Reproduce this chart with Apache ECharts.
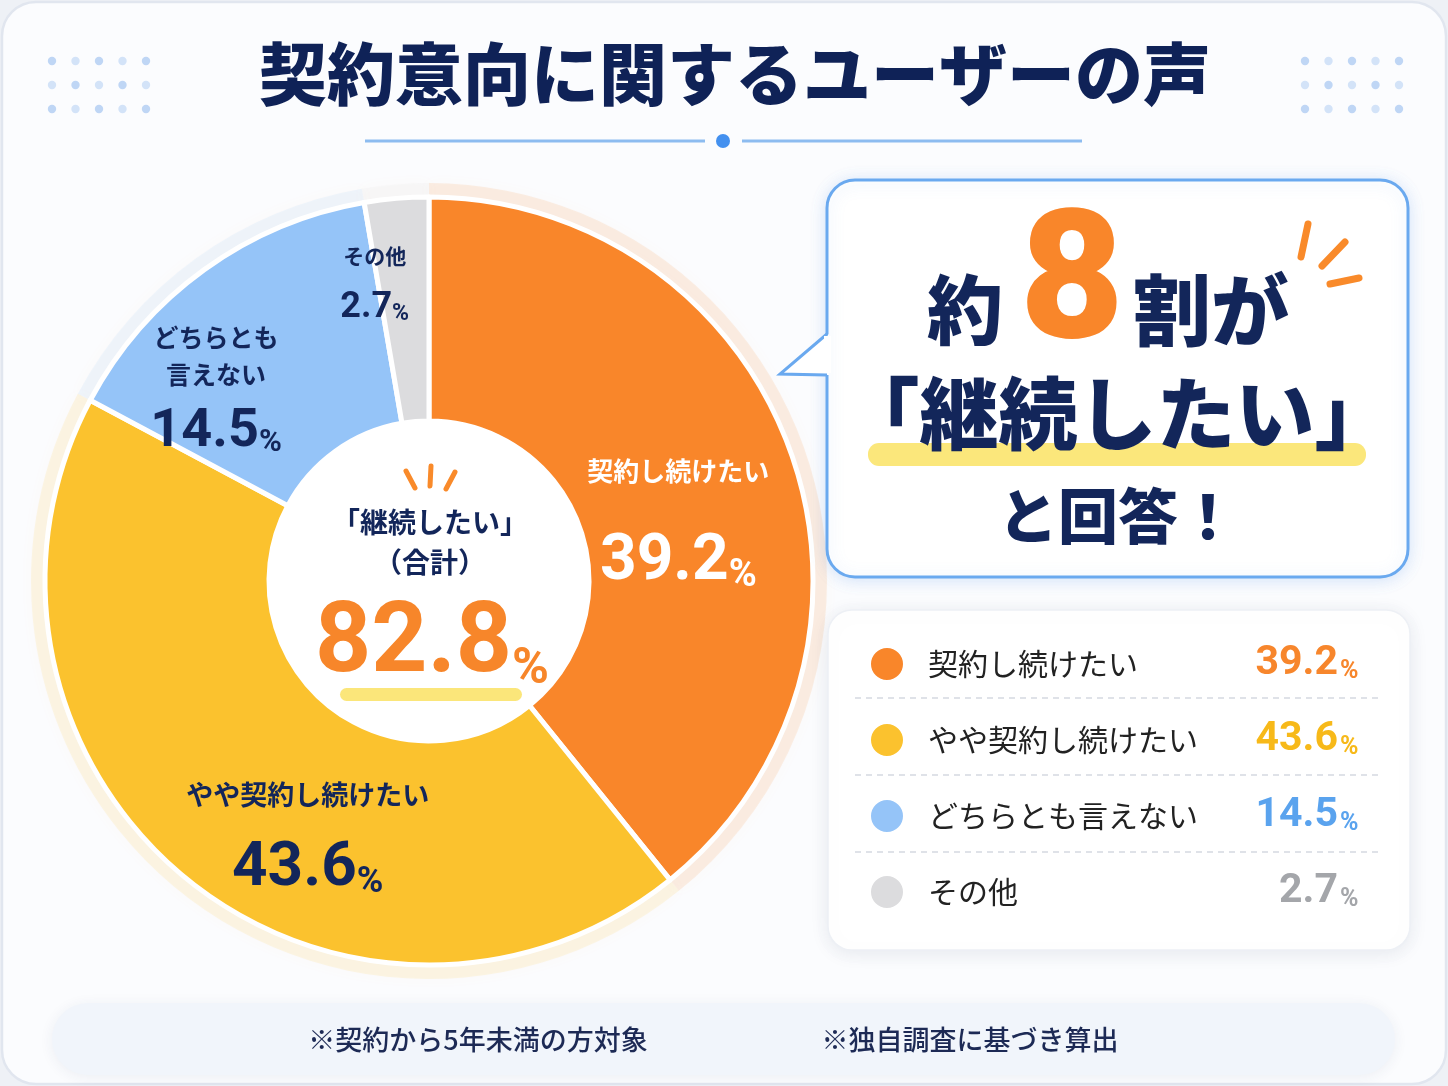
<!DOCTYPE html>
<html>
<head>
<meta charset="utf-8">
<script src="https://cdn.jsdelivr.net/npm/echarts@6/dist/echarts.min.js"></script>
<style>
html, body { margin: 0; padding: 0; background: #eef1f6; }
#main { width: 1448px; height: 1086px; }
</style>
</head>
<body>
<div id="main"></div>
<script>
// データ
var names = ['契約し続けたい', 'やや契約し続けたい', 'どちらとも言えない', 'その他'];
var values = [39.2, 43.6, 14.5, 2.7];
var notes = ['※契約から5年未満の方対象', '※独自調査に基づき算出'];

// 色
var colors = ['#f9862a', '#fbc22e', '#95c4f8', '#dcdcde'];
var valueColors = ['#f7862c', '#f7b919', '#5aa3ee', '#a4a6aa'];
var navy = '#13265a';
var jp = '"Noto Sans CJK JP", "Noto Sans", sans-serif';
var num = 'Roboto, "Noto Sans", sans-serif';

// 円グラフのラベル（改行・ずらし）
var sliceText = names.map(function (n, i) { return i === 2 ? n.replace('とも', 'とも\n') : n; });
var labelShift = [[-10, 30], [54, 44], [-52, 31], [-31, -25]];
var labelSize = [
  { n: 26, nl: 56, v: 64, vl: 96, p: 38, c: '#ffffff' },
  { n: 27, nl: 44, v: 62, vl: 84, p: 36, c: navy },
  { n: 25, nl: 37, v: 54, vl: 66, p: 31, c: navy },
  { n: 21, nl: 36, v: 36, vl: 52, p: 23, c: navy }
];

var cx = 429, cy = 581;
var total = values[0] + values[1]; // 継続したい（合計）

var myChart = echarts.init(document.getElementById('main'));

var pieData = names.map(function (n, i) {
  var s = labelSize[i];
  return {
    name: n,
    value: values[i],
    label: {
      rich: {
        n: { fontSize: s.n, lineHeight: s.nl, fontWeight: 700, fontFamily: jp, color: s.c },
        v: { fontSize: s.v, lineHeight: s.vl, fontWeight: 700, fontFamily: num, color: s.c, verticalAlign: 'bottom' },
        p: { fontSize: s.p, lineHeight: s.vl, fontWeight: 700, fontFamily: num, color: s.c, verticalAlign: 'bottom' }
      }
    }
  };
});

// 凡例のリッチテキスト
var legendRich = {
  n: { fontSize: 30, fontFamily: jp, color: '#222222', width: 300, lineHeight: 40, padding: [0, 0, 0, 19] }
};
names.forEach(function (n, i) {
  legendRich['v' + i] = { fontSize: 41, fontWeight: 700, fontFamily: num, color: valueColors[i], align: 'right', width: 110, lineHeight: 40, verticalAlign: 'bottom' };
  legendRich['q' + i] = { fontSize: 25, fontWeight: 700, fontFamily: num, color: valueColors[i], align: 'right', lineHeight: 40, verticalAlign: 'bottom', padding: [0, 0, 0, 2] };
});

// 飾りの点
var dots = [];
[52, 1305].forEach(function (x0) {
  for (var r = 0; r < 3; r++) {
    for (var c = 0; c < 5; c++) {
      dots.push({
        type: 'circle', z: 1, silent: true,
        shape: { cx: x0 + c * 23.5, cy: 61 + r * 24, r: 4.2 },
        style: { fill: (c + r) % 2 ? '#d3e3f8' : '#bfd6f5' }
      });
    }
  }
});

function spark(x1, y1, x2, y2, w) {
  return {
    type: 'line', z: 12, silent: true,
    shape: { x1: x1, y1: y1, x2: x2, y2: y2 },
    style: { stroke: '#f98a2a', lineWidth: w, lineCap: 'round' }
  };
}

var graphics = [
  // カード
  { type: 'rect', z: 0, silent: true, shape: { x: 2, y: 2, width: 1444, height: 1082, r: 34 },
    style: { fill: '#fbfcfe', stroke: '#e1e6ef', lineWidth: 2.5 } },
  // 区切り線
  { type: 'line', z: 1, silent: true, shape: { x1: 365, y1: 141, x2: 705, y2: 141 }, style: { stroke: '#8dbcf0', lineWidth: 3 } },
  { type: 'line', z: 1, silent: true, shape: { x1: 742, y1: 141, x2: 1082, y2: 141 }, style: { stroke: '#8dbcf0', lineWidth: 3 } },
  { type: 'circle', z: 1, silent: true, shape: { cx: 723, cy: 141, r: 7 }, style: { fill: '#4390ef' } },
  // 中央の白い円
  { type: 'circle', z: 1, silent: true, shape: { cx: cx, cy: cy, r: 160 }, style: { fill: '#ffffff' } },
  spark(406, 471, 415, 488, 5), spark(431, 466, 430, 486, 5), spark(455, 472, 446, 489, 5),
  { type: 'text', z: 12, silent: true, style: { x: 430, y: 522, text: '「継続したい」', font: '700 28px ' + jp, fill: navy, align: 'center', verticalAlign: 'middle' } },
  { type: 'text', z: 12, silent: true, style: { x: 430, y: 562, text: '（合計）', font: '700 28px ' + jp, fill: navy, align: 'center', verticalAlign: 'middle' } },
  { type: 'rect', z: 11, silent: true, shape: { x: 340, y: 688, width: 182, height: 13, r: 6.5 }, style: { fill: '#fbe67a' } },
  { type: 'text', z: 12, silent: true, style: {
      x: 432, y: 640, text: '{v|' + total.toFixed(1) + '}{p|%}', align: 'center', verticalAlign: 'middle',
      rich: {
        v: { fontSize: 98, fontWeight: 700, fontFamily: num, fill: '#f7862a', verticalAlign: 'bottom', lineHeight: 110 },
        p: { fontSize: 50, fontWeight: 700, fontFamily: num, fill: '#f7862a', verticalAlign: 'bottom', lineHeight: 110 }
      } } },
  // 吹き出し
  { type: 'rect', z: 5, silent: true, shape: { x: 827, y: 180, width: 581, height: 397, r: 28 },
    style: { fill: '#ffffff', stroke: '#6aa9ef', lineWidth: 3, shadowBlur: 16, shadowColor: 'rgba(90,150,230,0.22)', shadowOffsetY: 2 } },
  { type: 'polygon', z: 6, silent: true, shape: { points: [[829, 334], [780, 374], [829, 375]] }, style: { fill: '#ffffff' } },
  { type: 'polyline', z: 7, silent: true, shape: { points: [[827, 334], [780, 374], [827, 375]] }, style: { stroke: '#6aa9ef', lineWidth: 3, fill: null } },
  { type: 'rect', z: 7, silent: true, shape: { x: 824, y: 336, width: 7, height: 37 }, style: { fill: '#ffffff' } },
  { type: 'text', z: 8, silent: true, style: { x: 965, y: 310, text: '約', font: '900 76px ' + jp, fill: navy, align: 'center', verticalAlign: 'middle' } },
  { type: 'text', z: 8, silent: true, style: { x: 1072, y: 292, text: '8', font: '900 180px ' + num, fill: '#f9862a', align: 'center', verticalAlign: 'middle' } },
  { type: 'text', z: 8, silent: true, style: { x: 1211, y: 310, text: '割が', font: '900 78px ' + jp, fill: navy, align: 'center', verticalAlign: 'middle' } },
  { type: 'rect', z: 6, silent: true, shape: { x: 868, y: 443, width: 498, height: 23, r: 11 }, style: { fill: '#fbe77b' } },
  { type: 'text', z: 8, silent: true, style: { x: 1117, y: 414, text: '「継続したい」', font: '900 79px ' + jp, fill: navy, align: 'center', verticalAlign: 'middle' } },
  { type: 'text', z: 8, silent: true, style: { x: 1118, y: 516, text: 'と回答！', font: '900 60px ' + jp, fill: navy, align: 'center', verticalAlign: 'middle' } },
  spark(1308, 224, 1301, 257, 7), spark(1345, 242, 1322, 266, 7), spark(1359, 278, 1330, 284, 7),
  // 凡例ボックス
  { type: 'rect', z: 5, silent: true, shape: { x: 828, y: 610, width: 582, height: 340, r: 24 },
    style: { fill: '#ffffff', stroke: '#edf0f5', lineWidth: 1.5, shadowBlur: 18, shadowColor: 'rgba(40,60,100,0.10)', shadowOffsetY: 3 } },
  // 注記
  { type: 'rect', z: 1, silent: true, shape: { x: 52, y: 1003, width: 1343, height: 72, r: 36 },
    style: { fill: '#f1f5fb', shadowBlur: 14, shadowColor: 'rgba(40,60,100,0.07)', shadowOffsetY: 2 } },
  { type: 'text', z: 3, silent: true, style: { x: 478, y: 1040, text: notes[0], font: '500 27px ' + jp, fill: '#1d2a55', align: 'center', verticalAlign: 'middle' } },
  { type: 'text', z: 3, silent: true, style: { x: 970, y: 1040, text: notes[1], font: '500 27px ' + jp, fill: '#1d2a55', align: 'center', verticalAlign: 'middle' } }
];
[698, 775, 852].forEach(function (y) {
  graphics.push({ type: 'line', z: 6, silent: true, shape: { x1: 855, y1: y, x2: 1380, y2: y },
    style: { stroke: '#dfe2e8', lineWidth: 2, lineDash: [6, 5] } });
});

var option = {
  backgroundColor: '#eef1f6',
  color: colors,
  animation: false,
  title: {
    text: '契約意向に関するユーザーの声',
    left: 254,
    top: 35,
    textStyle: { fontSize: 68, fontWeight: 900, fontFamily: jp, color: '#0f2257' }
  },
  legend: {
    orient: 'vertical',
    left: 864,
    top: 638,
    itemWidth: 34,
    itemHeight: 34,
    itemGap: 35,
    icon: 'circle',
    align: 'left',
    selectedMode: false,
    z: 10,
    itemStyle: { opacity: 1 },
    data: names,
    formatter: function (name) {
      var i = names.indexOf(name);
      return '{n|' + name + '}{v' + i + '|' + values[i].toFixed(1) + '}{q' + i + '|%}';
    },
    textStyle: { rich: legendRich }
  },
  graphic: { elements: graphics.concat(dots) },
  series: [
    {
      name: '契約意向',
      type: 'pie',
      z: 3,
      center: [cx, cy],
      radius: [160, 384],
      startAngle: 90,
      clockwise: true,
      avoidLabelOverlap: false,
      emphasis: { disabled: true },
      itemStyle: { borderColor: '#ffffff', borderWidth: 5 },
      label: {
        show: true,
        position: 'inside',
        formatter: function (p) {
          var i = p.dataIndex;
          return '{n|' + sliceText[i] + '}\n{v|' + values[i].toFixed(1) + '}{p|%}';
        }
      },
      labelLine: { show: false },
      labelLayout: function (p) {
        var s = labelShift[p.dataIndex];
        return { dx: s[0], dy: s[1] };
      },
      data: pieData
    },
    {
      // 外側のぼかし
      type: 'pie',
      silent: true,
      z: 1,
      center: [cx, cy],
      radius: [382, 398],
      startAngle: 90,
      label: { show: false },
      labelLine: { show: false },
      itemStyle: { opacity: 0.12, shadowBlur: 14, shadowColor: 'rgba(250,180,80,0.3)' },
      data: names.map(function (n, i) { return { name: n, value: values[i] }; })
    }
  ]
};

myChart.setOption(option);
</script>
</body>
</html>
